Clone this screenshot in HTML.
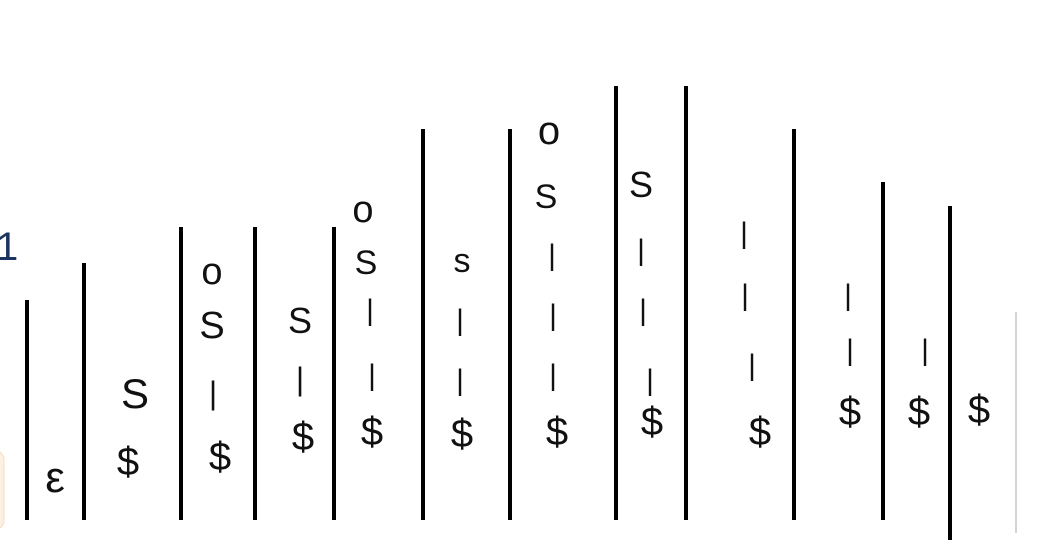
<!DOCTYPE html>
<html><head><meta charset="utf-8"><style>
html,body{margin:0;padding:0;background:#fff;width:1052px;height:552px;overflow:hidden}
svg text{font-family:"Liberation Sans",sans-serif;fill:#111}
</style></head><body>
<svg width="1052" height="552">
<rect x="-20" y="450" width="24" height="80" rx="10" fill="#fdf0e2" stroke="#f6dcc0"/>
<text x="-4" y="260" font-size="40" style="fill:#1d3461">1</text>
<g id="lines"></g>
<g id="syms"></g>
</svg>
<script>
const lineX=[27,84,181,255,334,423,510,616,686,794,883,950];
const lineTop=[300,263,227,227,227,129,129,86,86,129,182,206];
const lineBot=[520,520,520,520,520,520,520,520,520,520,520,540];
const syms=[["ε",55,492,44],["S",135,408,42],["$",128,475,40],
["o",212,284,38],["S",212,338,38],["|",213,404,32],["$",220,470,40],
["S",300,333,36],["|",300,390,32],["$",303,450,40],
["o",363,222,38],["S",366,274,34],["|",370,320,30],["|",372,385,30],["$",372,445,40],
["s",462,272,34],["|",460,330,30],["|",460,390,30],["$",462,447,40],
["o",549,144,40],["S",546,208,34],["|",552,265,30],["|",553,325,30],["|",553,385,30],["$",557,445,40],
["S",641,197,36],["|",641,260,30],["|",643,320,30],["|",650,390,30],["$",652,435,40],
["|",744,243,30],["|",745,305,30],["|",752,375,30],["$",760,445,40],
["|",848,305,30],["|",850,360,30],["$",850,425,40],
["|",925,360,30],["$",919,425,40],["$",979,423,40]];
const NS="http://www.w3.org/2000/svg";
const lg=document.getElementById('lines');
lineX.forEach((x,i)=>{
const l=document.createElementNS(NS,'line');
l.setAttribute('x1',x);l.setAttribute('x2',x);
l.setAttribute('y1',lineTop[i]);l.setAttribute('y2',lineBot[i]);
l.setAttribute('stroke','#000');l.setAttribute('stroke-width','4');


lg.appendChild(l);});
const f=document.createElementNS(NS,'line');
f.setAttribute('x1',1016);f.setAttribute('x2',1016);f.setAttribute('y1',312);f.setAttribute('y2',533);
f.setAttribute('stroke','#aaa');f.setAttribute('stroke-width','1');


lg.appendChild(f);
const sg=document.getElementById('syms');
syms.forEach(s=>{
const t=document.createElementNS(NS,'text');
t.setAttribute('x',s[1]);t.setAttribute('y',s[2]);t.setAttribute('font-size',s[3]);
t.setAttribute('text-anchor','middle');
t.textContent=s[0];


sg.appendChild(t);});
</script>
</body></html>
